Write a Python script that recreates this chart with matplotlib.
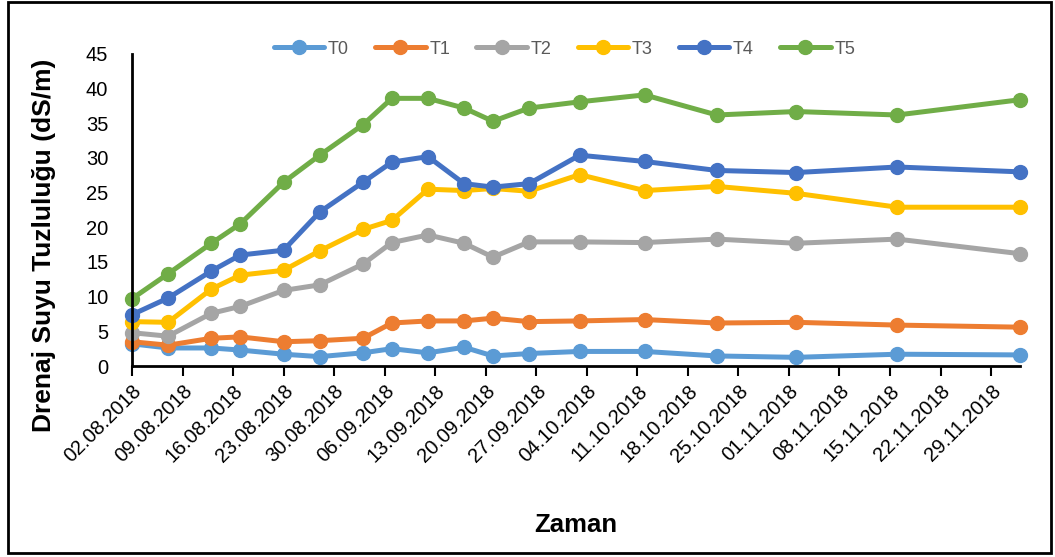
import pandas as pd
import matplotlib
matplotlib.use('Agg')
import matplotlib.pyplot as plt
import matplotlib.dates as mdates
from matplotlib.patches import Rectangle

plt.rcParams['font.family'] = ['Liberation Sans', 'DejaVu Sans']

# sampling dates
dates = ['02.08.2018', '07.08.2018', '13.08.2018', '17.08.2018', '23.08.2018',
         '28.08.2018', '03.09.2018', '07.09.2018', '12.09.2018', '17.09.2018',
         '21.09.2018', '26.09.2018', '03.10.2018', '12.10.2018', '22.10.2018',
         '02.11.2018', '16.11.2018', '03.12.2018']

t0 = [3.2, 2.6, 2.6, 2.3, 1.7, 1.35, 1.9, 2.5, 1.9, 2.7, 1.45, 1.8,
      2.1, 2.1, 1.45, 1.25, 1.7, 1.6]
t1 = [3.5, 3.0, 4.0, 4.2, 3.5, 3.65, 4.0, 6.2, 6.5, 6.5, 6.9, 6.4,
      6.5, 6.7, 6.2, 6.3, 5.9, 5.6]
t2 = [4.8, 4.3, 7.6, 8.6, 10.9, 11.7, 14.7, 17.8, 18.9, 17.7, 15.7, 17.9,
      17.9, 17.8, 18.3, 17.7, 18.3, 16.2]
t3 = [6.4, 6.3, 11.1, 13.1, 13.8, 16.6, 19.7, 21.0, 25.5, 25.3, 25.6, 25.2,
      27.6, 25.3, 25.9, 24.9, 22.9, 22.9]
t4 = [7.4, 9.8, 13.7, 16.0, 16.7, 22.2, 26.5, 29.4, 30.2, 26.3, 25.8, 26.3,
      30.4, 29.5, 28.2, 27.9, 28.7, 28.0]
t5 = [9.7, 13.3, 17.7, 20.5, 26.5, 30.4, 34.8, 38.6, 38.6, 37.2, 35.3, 37.2,
      38.1, 39.1, 36.2, 36.7, 36.2, 38.4]

series = {'T0': t0, 'T1': t1, 'T2': t2, 'T3': t3, 'T4': t4, 'T5': t5}
colors = {'T0': '#5B9BD5', 'T1': '#ED7D31', 'T2': '#A5A5A5',
          'T3': '#FFC000', 'T4': '#4472C4', 'T5': '#70AD47'}

x = pd.to_datetime(dates, format='%d.%m.%Y')

fig = plt.figure(figsize=(10.55, 5.57), dpi=100)
ax = fig.add_axes([0.1251, 0.3429, 0.8417, 0.5602])

for name, vals in series.items():
    ax.plot(x, vals, color=colors[name], lw=3.6, marker='o', ms=10,
            label=name, solid_capstyle='round', clip_on=False)

ax.set_ylim(0, 45)
ax.set_yticks(range(0, 46, 5))
ax.set_xlim(x[0], x[-1])
ticks = pd.date_range('2018-08-02', '2018-11-29', freq='7D')
ax.set_xticks(ticks)
ax.xaxis.set_major_formatter(mdates.DateFormatter('%d.%m.%Y'))
plt.setp(ax.get_xticklabels(), rotation=45, ha='right', rotation_mode='anchor')

ax.tick_params(axis='y', length=0, pad=17, labelsize=14.5)
ax.tick_params(axis='x', length=7, width=1.5, pad=4, labelsize=14.5)

for s in ['top', 'right']:
    ax.spines[s].set_visible(False)
for s in ['left', 'bottom']:
    ax.spines[s].set_linewidth(2)

ax.set_xlabel('Zaman', fontsize=18.5, fontweight='bold', labelpad=34)
ax.set_ylabel('Drenaj Suyu Tuzluluğu (dS/m)', fontsize=19, fontweight='bold')
ax.yaxis.set_label_coords(-0.086, 0.388)

leg = ax.legend(loc='center', bbox_to_anchor=(0.487, 1.015), ncol=6, frameon=False,
                fontsize=13, handlelength=2.8, columnspacing=1.45, handletextpad=0.2)
for t in leg.get_texts():
    t.set_color('#595959')

fig.patches.append(Rectangle((0.008, 0.008), 0.988, 0.988, transform=fig.transFigure,
                             fill=False, edgecolor='black', lw=2))

fig.savefig('out.png', dpi=100)
